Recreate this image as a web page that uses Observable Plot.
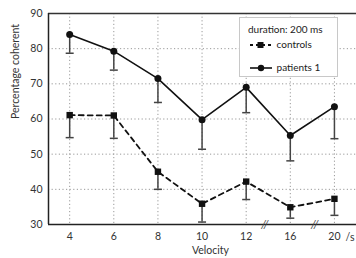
<!DOCTYPE html>
<html><head><meta charset="utf-8">
<script src="https://cdn.jsdelivr.net/npm/d3@7"></script>
<script src="https://cdn.jsdelivr.net/npm/@observablehq/plot@0.6"></script>
<style>
body{margin:0;background:#fff;font-family:Lato,"Open Sans",sans-serif;}
#wrap{position:relative;width:356px;height:258px;}
#legend{position:absolute;left:239px;top:17px;width:99px;height:60px;border:1px solid #c8c8c8;background:#fff;font-size:10px;color:#222;box-sizing:border-box;}
#legend .t{position:absolute;left:8px;top:5px;white-space:nowrap;}
#legend .r{position:absolute;left:8px;white-space:nowrap;}
#legend svg{vertical-align:middle;}
</style></head><body>
<div id="wrap"></div>
<script>
const velocities = ["4","6","8","10","12","16","20"];
const patients = [84, 79.3, 71.5, 59.8, 69.0, 55.3, 63.5];
const patientsLow = [78.7, 73.9, 64.7, 51.4, 61.8, 48.1, 54.4];
const controls = [61.1, 61.0, 45.0, 35.9, 42.2, 34.9, 37.3];
const controlsLow = [54.7, 54.5, 40.0, 30.7, 37.1, 31.8, 32.6];
const yTicks = [30, 40, 50, 60, 70, 80, 90];
const breaks = [4.42, 5.55];

const pData = velocities.map((v, i) => ({i, v: patients[i], lo: patientsLow[i]}));
const cData = velocities.map((v, i) => ({i, v: controls[i], lo: controlsLow[i]}));

const cap = {draw(ctx, size) { const w = 4; ctx.moveTo(-w, 0); ctx.lineTo(w, 0); }};
const sq = {draw(ctx, size) { const w = 3.2; ctx.rect(-w, -w, 2*w, 2*w); }};

const grid = {stroke: "#999", strokeDasharray: "1.2,2.4", strokeWidth: 1};

const chart = Plot.plot({
  width: 356, height: 258,
  marginLeft: 48, marginRight: 0, marginTop: 13, marginBottom: 34,
  style: {fontFamily: "Lato, 'Open Sans', sans-serif", fontSize: "10px", color: "#333", background: "white"},
  x: {domain: [-0.48, 6.5], axis: null},
  y: {domain: [30, 90], axis: null},
  marks: [
    Plot.ruleY(yTicks.slice(1, -1), grid),
    Plot.ruleX(d3.range(velocities.length), grid),
    Plot.axisY({ticks: yTicks, tickSize: 0, tickPadding: 6, label: null, fontSize: 10.5, fill: "#333"}),
    Plot.axisX({ticks: d3.range(velocities.length), tickFormat: i => velocities[i], tickSize: 0, tickPadding: 8, label: null, fontSize: 10.5, fill: "#333"}),
    Plot.ruleY([30], {stroke: "#222", strokeWidth: 1.5}),
    Plot.ruleY([90], {stroke: "#333", strokeWidth: 1.3}),
    Plot.ruleX([-0.48], {stroke: "#222", strokeWidth: 1.5}),
    Plot.text(breaks, {x: d => d, y: 30, text: () => "//", fontSize: 12, fill: "#444", fontStyle: "italic"}),
    // error bars
    Plot.ruleX(pData, {x: "i", y1: "v", y2: "lo", stroke: "#444", strokeWidth: 1.5}),
    Plot.dot(pData, {x: "i", y: "lo", symbol: cap, stroke: "#444", strokeWidth: 1.5}),
    Plot.ruleX(cData, {x: "i", y1: "v", y2: "lo", stroke: "#444", strokeWidth: 1.5}),
    Plot.dot(cData, {x: "i", y: "lo", symbol: cap, stroke: "#444", strokeWidth: 1.5}),
    // lines
    Plot.line(pData, {x: "i", y: "v", stroke: "#111", strokeWidth: 1.6}),
    Plot.line(cData, {x: "i", y: "v", stroke: "#111", strokeWidth: 1.8, strokeDasharray: "5,4"}),
    Plot.dot(pData, {x: "i", y: "v", r: 3.5, fill: "#111"}),
    Plot.dot(cData, {x: "i", y: "v", symbol: sq, fill: "#111"}),
    // labels
    Plot.text(["Percentage coherent"], {frameAnchor: "left", rotate: -90, dx: -33, fontSize: 10.5, fill: "#333"}),
    Plot.text(["Velocity"], {frameAnchor: "bottom", lineAnchor: "middle", dx: 8, dy: 26, fontSize: 10.5, fill: "#333"}),
    Plot.text(["/s"], {frameAnchor: "bottom-right", lineAnchor: "middle", textAnchor: "end", dx: -2, dy: 13, fontSize: 10.5, fill: "#333"})
  ]
});
const wrap = document.getElementById("wrap");
wrap.appendChild(chart);

const legend = document.createElement("div");
legend.id = "legend";
legend.innerHTML = `
<div class="t">duration: 200 ms</div>
<div class="r" style="top:20px"><svg width="26" height="10"><line x1="2" y1="5" x2="24" y2="5" stroke="#111" stroke-width="1.8" stroke-dasharray="3,3"/><rect x="9.5" y="2" width="6" height="6" fill="#111"/></svg> controls</div>
<div class="r" style="top:43px"><svg width="26" height="10"><line x1="2" y1="5" x2="24" y2="5" stroke="#111" stroke-width="1.6"/><circle cx="13" cy="5" r="3.2" fill="#111"/></svg> patients 1</div>`;
wrap.appendChild(legend);
</script>
</body></html>
